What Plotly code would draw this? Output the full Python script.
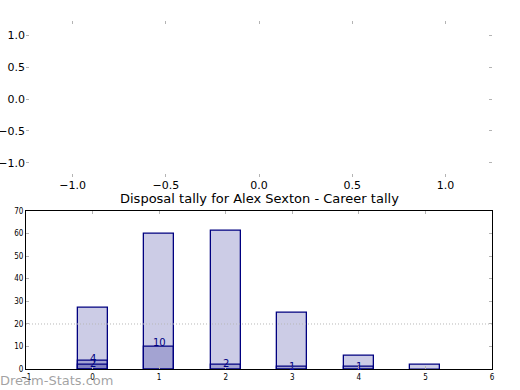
import plotly.graph_objects as go

# ---- data ----
kicks = [0, 1, 2, 3, 4, 5]
career_tally = [27, 60, 61, 25, 6, 2]
layer_a = [4, 10, 2, 1, 1, 0]
layer_b = [2, 0, 0, 0, 0, 0]
average_line = 20
title_text = "Disposal tally for Alex Sexton - Career tally"
watermark = "Dream-Stats.com"

W, H = 520, 390
L, R = 26, 492
fill = "rgba(0,0,128,0.2)"
edge = "#000080"
tickgray = "#b4b4b4"

fig = go.Figure()

# top, empty axes
fig.add_trace(go.Scatter(x=[], y=[], xaxis="x", yaxis="y", showlegend=False))

# bottom bar chart
for vals in (career_tally, layer_a, layer_b):
    xs = [k for k, v in zip(kicks, vals) if v > 0]
    ys = [v for v in vals if v > 0]
    fig.add_trace(go.Bar(x=xs, y=ys, width=0.45, xaxis="x2", yaxis="y2",
                         marker=dict(color=fill, line=dict(color=edge, width=1.3)),
                         showlegend=False, hoverinfo="skip"))

fig.add_trace(go.Scatter(x=[-1, 6], y=[average_line, average_line], mode="lines",
                         line=dict(color="#b8b8b8", width=1, dash="1px,2px"),
                         xaxis="x2", yaxis="y2", showlegend=False, hoverinfo="skip"))

for vals in (layer_a, layer_b):
    for k, v in zip(kicks, vals):
        if v > 0:
            fig.add_annotation(x=k, y=v * 1.2, xref="x2", yref="y2", text=str(v),
                               showarrow=False, yanchor="middle", xanchor="center",
                               font=dict(family="DejaVu Sans", size=10, color=edge))

def px_x(p):
    return p / W

def px_y(p):
    return (H - p) / H

common_tick = dict(ticks="inside", ticklen=3, tickcolor=tickgray, tickwidth=1,
                   showgrid=False, zeroline=False, mirror="ticks", automargin=False)

fig.update_layout(
    width=W, height=H, margin=dict(l=0, r=0, t=0, b=0, autoexpand=False),
    paper_bgcolor="white", plot_bgcolor="rgba(0,0,0,0)",
    barmode="overlay", bargap=0,
    font=dict(family="DejaVu Sans", color="black"),
    xaxis=dict(domain=[px_x(L), px_x(R)], range=[-1.25, 1.25], anchor="y",
               tickvals=[-1.0, -0.5, 0.0, 0.5, 1.0],
               ticktext=["\u22121.0", "\u22120.5", "0.0", "0.5", "1.0"],
               tickfont=dict(size=11), showline=False, **common_tick),
    yaxis=dict(domain=[px_y(177), px_y(21)], range=[-1.22, 1.22], anchor="x",
               tickvals=[-1.0, -0.5, 0.0, 0.5, 1.0],
               ticktext=["\u22121.0", "\u22120.5", "0.0", "0.5", "1.0"],
               tickfont=dict(size=11), showline=False, **common_tick),
    xaxis2=dict(domain=[px_x(L), px_x(R)], range=[-1, 6], anchor="y2",
                tickvals=[-1, 0, 1, 2, 3, 4, 5, 6],
                tickfont=dict(size=8, family="DejaVu Sans Condensed, DejaVu Sans"),
                showline=True, linecolor="black", linewidth=1.2, **common_tick),
    yaxis2=dict(domain=[px_y(369.3), px_y(210.7)], range=[0, 70], anchor="x2",
                tickvals=[0, 10, 20, 30, 40, 50, 60, 70],
                tickfont=dict(size=8, family="DejaVu Sans Condensed, DejaVu Sans"),
                showline=True, linecolor="black", linewidth=1.2, **common_tick),
)

fig.add_annotation(text=title_text, x=(L + R) / 2 / W, y=px_y(208), xref="paper", yref="paper",
                   showarrow=False, xanchor="center", yanchor="bottom",
                   font=dict(family="DejaVu Sans", size=13, color="black"))

fig.add_annotation(text=watermark, x=0, y=0, xref="paper", yref="paper",
                   showarrow=False, xanchor="left", yanchor="bottom", xshift=-2, yshift=0,
                   font=dict(family="DejaVu Sans", size=13, color="rgba(100,100,100,0.6)"))

fig.write_html("out.html", config={"displayModeBar": False},
               post_script="document.body.style.margin='0';document.body.style.overflow='hidden';")
